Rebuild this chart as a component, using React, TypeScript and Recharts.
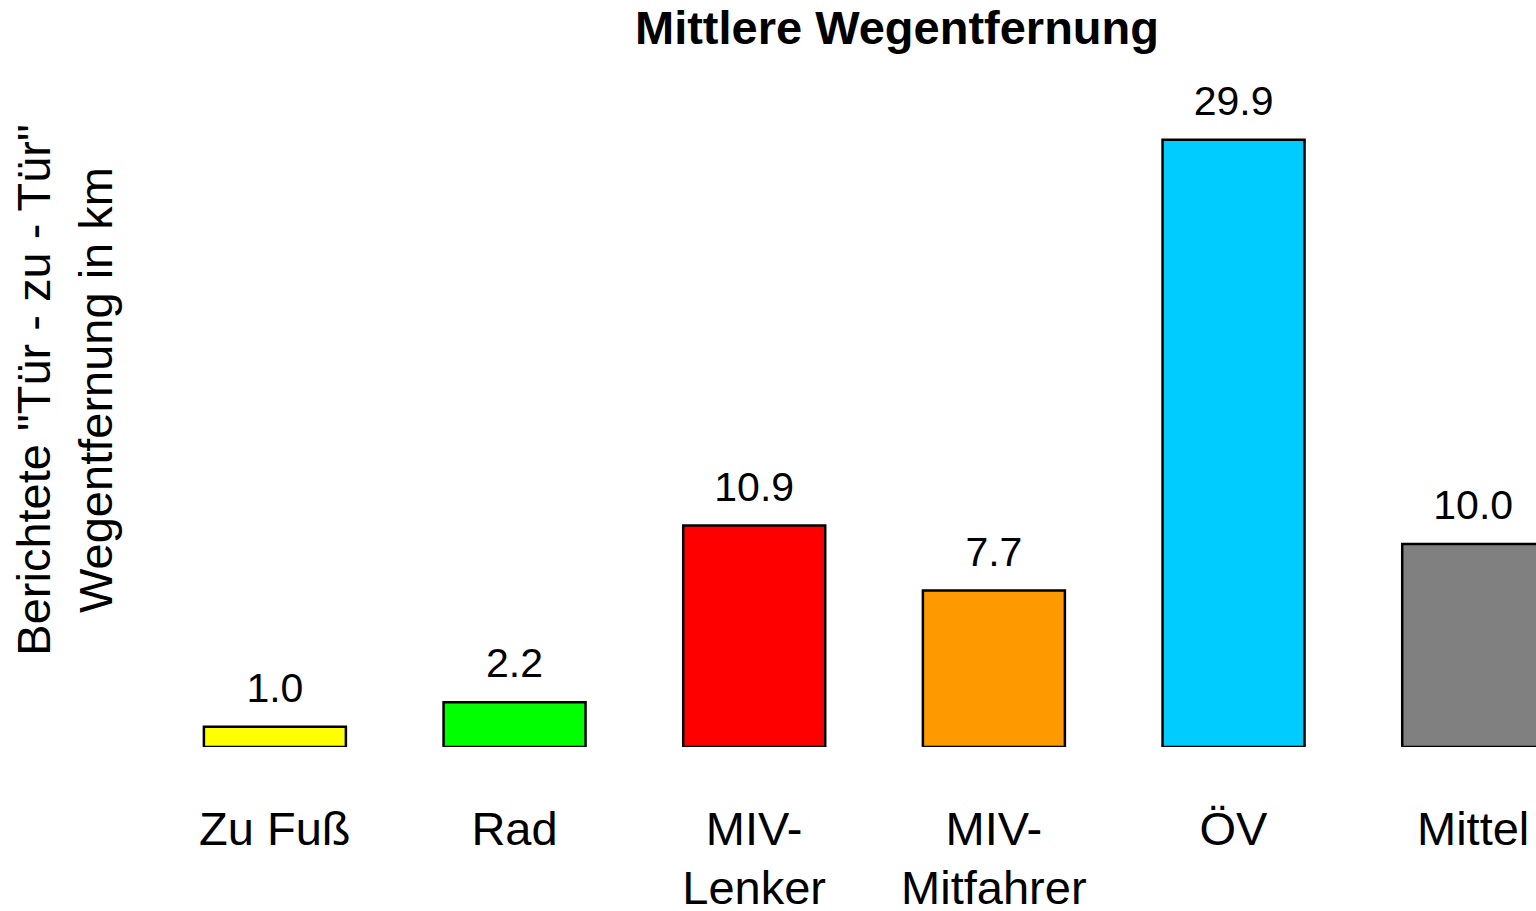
import { BarChart, Bar, XAxis, YAxis, Cell, LabelList } from 'recharts'

const categories = ['Zu Fuß', 'Rad', 'MIV-\nLenker', 'MIV-\nMitfahrer', 'ÖV', 'Mittel']
const distances = [1.0, 2.2, 10.9, 7.7, 29.9, 10.0]
const barColors = ['#FFFF00', '#00FF00', '#FF0000', '#FF9900', '#00CCFF', '#808080']

const title = 'Mittlere Wegentfernung'
const yLabelLines = ['Berichtete "Tür - zu - Tür"', 'Wegentfernung in km']

const data = categories.map((name, i) => ({ name, value: distances[i], color: barColors[i] }))

const FONT = '"Liberation Sans", Arial, Helvetica, sans-serif'

function CategoryTick({ x, payload }: any) {
  const lines = String(payload.value).split('\n')
  return (
    <text x={x} y={845} textAnchor="middle" fontFamily={FONT} fontSize={47} fill="#000">
      {lines.map((l, i) => (
        <tspan key={i} x={x} dy={i === 0 ? 0 : 59}>{l}</tspan>
      ))}
    </text>
  )
}

export default function App() {
  return (
    <div style={{ position: 'relative', width: 1536, height: 911, overflow: 'hidden', background: '#fff' }}>
      <style>{`body{margin:0;overflow:hidden}`}</style>
      <BarChart
        width={1600}
        height={911}
        data={data}
        margin={{ top: 97, right: 7, bottom: 134, left: 155 }}
        barCategoryGap="20.4%"
      >
        <XAxis dataKey="name" axisLine={false} tickLine={false} interval={0} tick={<CategoryTick />} height={30} />
        <YAxis hide domain={[0, 32]} allowDataOverflow />
        <Bar dataKey="value" stroke="#000" strokeWidth={2.5} isAnimationActive={false}>
          {data.map((d) => (
            <Cell key={d.name} fill={d.color} />
          ))}
          <LabelList
            dataKey="value"
            position="top"
            offset={25}
            formatter={(v: any) => Number(v).toFixed(1)}
            fill="#000"
            fontSize={41}
            fontFamily={FONT}
          />
        </Bar>
      </BarChart>
      <svg width={1536} height={911} style={{ position: 'absolute', left: 0, top: 0, pointerEvents: 'none' }}>
        <text x={897} y={44} textAnchor="middle" fontFamily={FONT} fontSize={47} fontWeight="bold" fill="#000">
          {title}
        </text>
        {yLabelLines.map((l, i) => (
          <text
            key={i}
            transform={`translate(${50 + i * 62}, 390) rotate(-90)`}
            textAnchor="middle"
            fontFamily={FONT}
            fontSize={47}
            fill="#000"
          >
            {l}
          </text>
        ))}
      </svg>
    </div>
  )
}
